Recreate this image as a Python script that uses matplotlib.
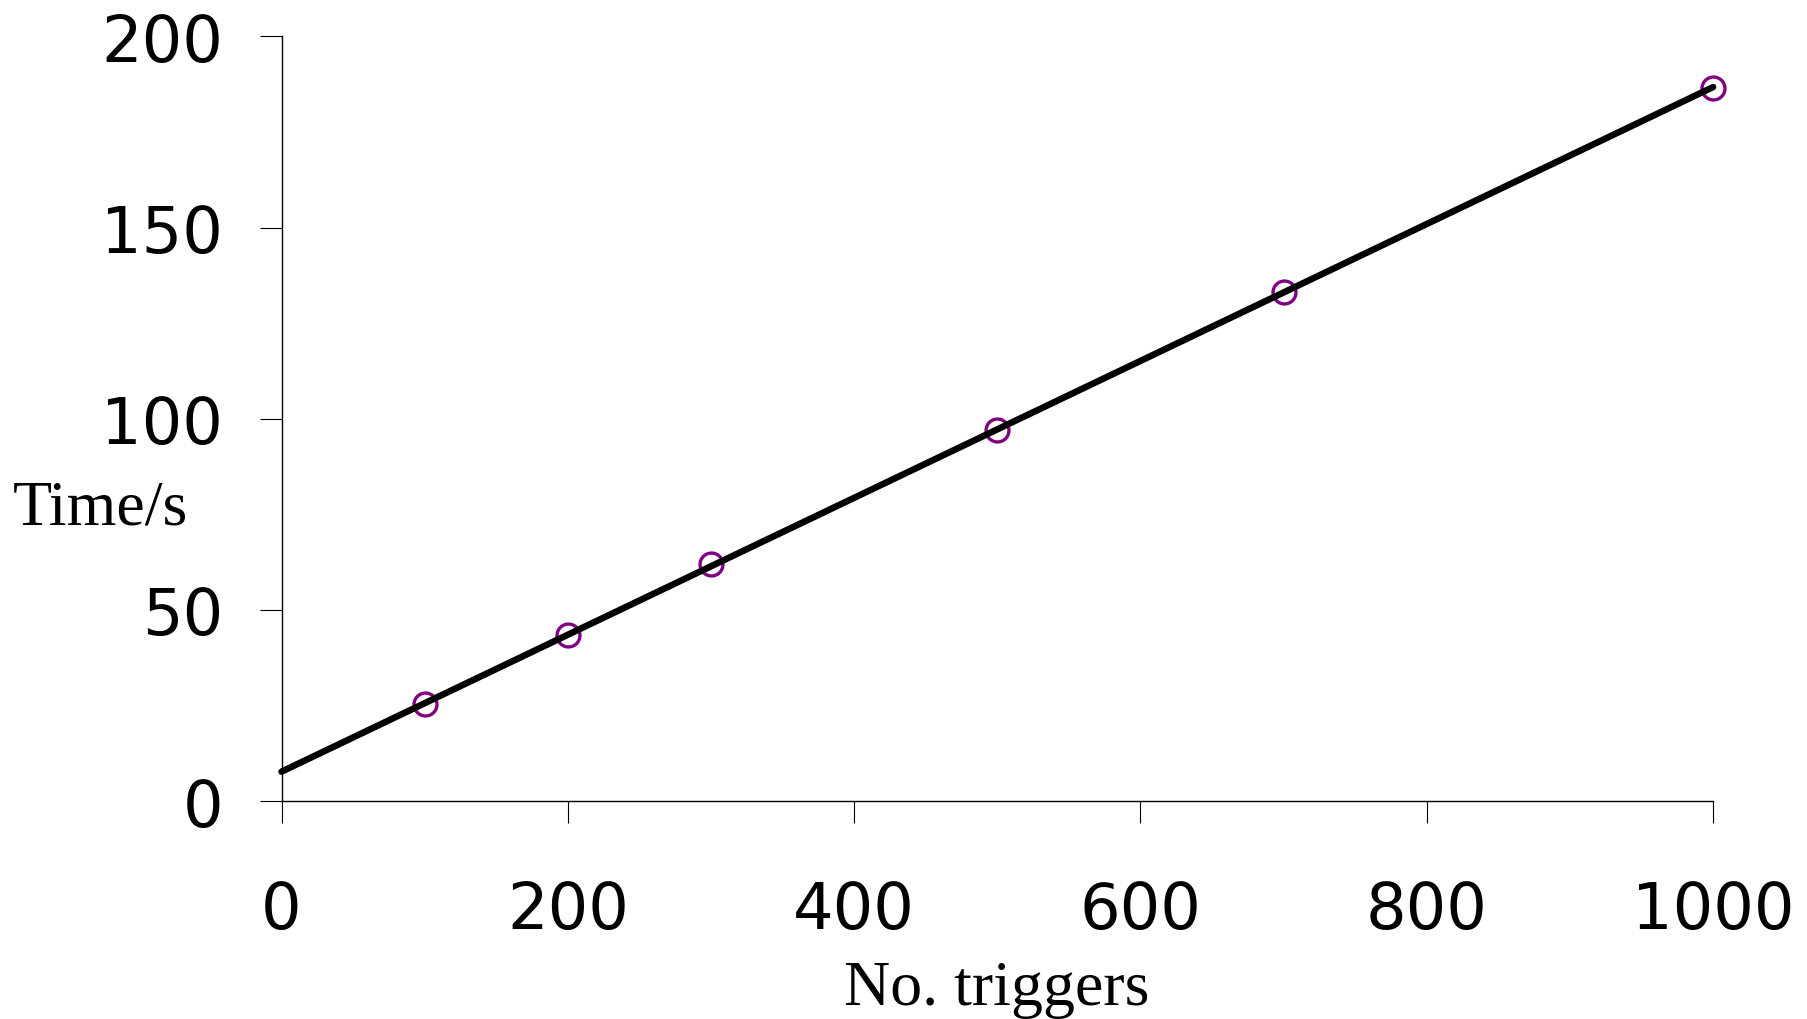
import matplotlib.pyplot as plt
import numpy as np

triggers = np.array([100, 200, 300, 500, 700, 1000])
times = np.array([25.4, 43.3, 61.9, 97.0, 133.2, 186.6])
x_ticks = [0, 200, 400, 600, 800, 1000]
y_ticks = [0, 50, 100, 150, 200]

fig = plt.figure(figsize=(18.08, 10.2), dpi=100)
ax = fig.add_axes([0.1557, 0.2137, 0.7918, 0.7497])

# linear fit through the measurements
slope, intercept = np.polyfit(triggers, times, 1)
fit_x = np.array([0, 1000])
ax.plot(triggers, times, linestyle='none', marker='o', markersize=16.5,
        markerfacecolor='none', markeredgecolor='#800080', markeredgewidth=2.4,
        zorder=2, clip_on=False)
ax.plot(fit_x, slope * fit_x + intercept, color='black', linewidth=4.7,
        solid_capstyle='round', zorder=3, clip_on=False)

ax.set_xlim(0, 1000)
ax.set_ylim(0, 200)
ax.set_xticks(x_ticks)
ax.set_yticks(y_ticks)

for side in ['top', 'right']:
    ax.spines[side].set_visible(False)
for side in ['left', 'bottom']:
    ax.spines[side].set_linewidth(1)

ax.tick_params(axis='both', direction='out', length=16, width=0.8, labelsize=46)
ax.tick_params(axis='x', pad=40)
ax.tick_params(axis='y', pad=26)

fig.text(13 / 1808, 1 - 525 / 1020, 'Time/s', family='Liberation Serif', fontsize=46,
         ha='left', va='baseline')
fig.text(997 / 1808, 1 - 1005 / 1020, 'No. triggers', family='Liberation Serif', fontsize=46,
         ha='center', va='baseline')

fig.savefig('out.png', dpi=100)
